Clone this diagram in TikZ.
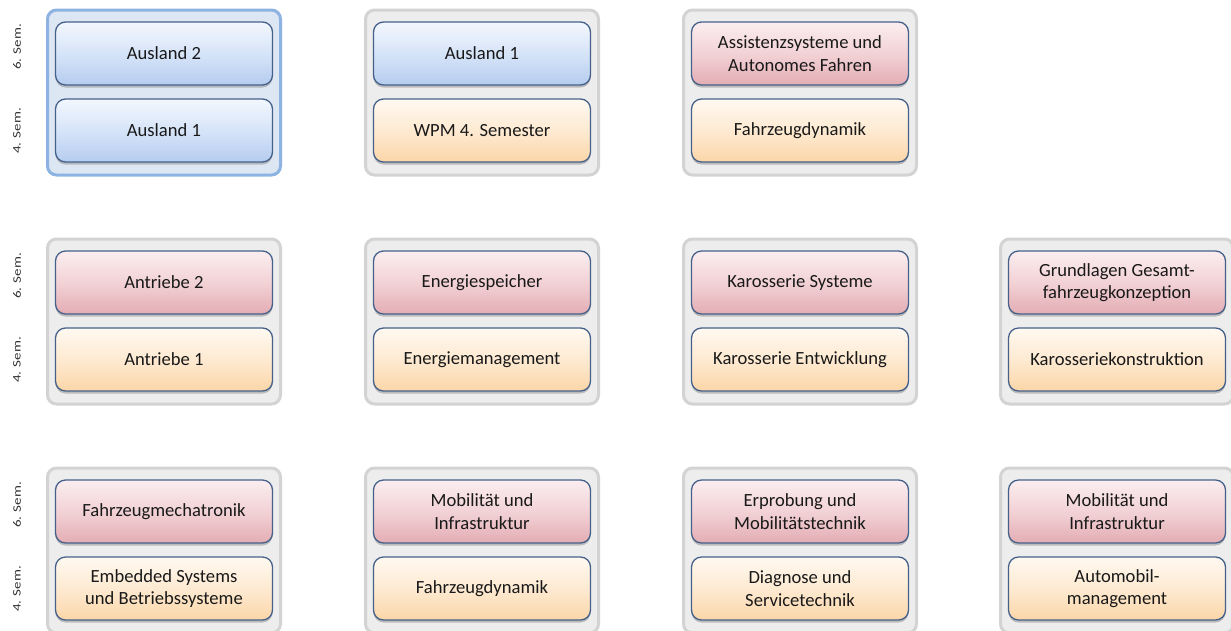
\documentclass[tikz,border=0pt]{standalone}
\usepackage{fontspec}
\setmainfont{Carlito}
\usetikzlibrary{positioning, backgrounds, shadows}

\definecolor{rahmen}{HTML}{45618A}
\definecolor{grauFill}{HTML}{EDEDED}
\definecolor{grauRand}{HTML}{D3D3D3}
\definecolor{blauFill}{HTML}{DDE7F4}
\definecolor{blauRand}{HTML}{8DB3E2}
\definecolor{blauOben}{HTML}{F3F7FE}
\definecolor{blauMitte}{HTML}{D6E4F8}
\definecolor{blauUnten}{HTML}{B6CDEF}
\definecolor{rotOben}{HTML}{FBEEF0}
\definecolor{rotMitte}{HTML}{F2D2D6}
\definecolor{rotUnten}{HTML}{E3ADB4}
\definecolor{orangeOben}{HTML}{FFF9F1}
\definecolor{orangeMitte}{HTML}{FEEAD2}
\definecolor{orangeUnten}{HTML}{FBD6A8}

\tikzset{
	gruppe/.style={draw=grauRand, fill=grauFill, line width=3pt, rounded corners=9pt,
		minimum width=233pt, minimum height=165pt},
	kurs/.style={draw=rahmen, line width=1.3pt, rounded corners=10pt,
		minimum width=217pt, minimum height=63pt, align=center, text=black!90,
		font=\fontsize{18.6pt}{22.5pt}\selectfont,
		drop shadow={shadow xshift=0pt, shadow yshift=-2.5pt, opacity=0.45}},
	blau/.style={kurs, top color=blauOben, bottom color=blauUnten, middle color=blauMitte},
	rot/.style={kurs, top color=rotOben, bottom color=rotUnten, middle color=rotMitte},
	orange/.style={kurs, top color=orangeOben, bottom color=orangeUnten, middle color=orangeMitte},
	sem/.style={rotate=90, text=black!80, font=\fontsize{11.5pt}{13pt}\selectfont}
}

\begin{document}
\begin{tikzpicture}[x=1pt, y=-1pt]
	\useasboundingbox (0,0) rectangle (1231,630);
	
	% Gruppen
	\node[gruppe, draw=blauRand, fill=blauFill] (G11) at (164,92.5) {};
	\node[gruppe] (G12) at (482,92.5) {};
	\node[gruppe] (G13) at (800,92.5) {};
	\node[gruppe] (G21) at (164,321.5) {};
	\node[gruppe] (G22) at (482,321.5) {};
	\node[gruppe] (G23) at (800,321.5) {};
	\node[gruppe] (G24) at (1117,321.5) {};
	\node[gruppe] (G31) at (164,550.5) {};
	\node[gruppe] (G32) at (482,550.5) {};
	\node[gruppe] (G33) at (800,550.5) {};
	\node[gruppe] (G34) at (1117,550.5) {};
	
	% Zeile 1
	\node[blau] (K11o) at (164,53.5) {Ausland 2};
	\node[blau] (K11u) at (164,130.5) {Ausland 1};
	\node[blau] (K12o) at (482,53.5) {Ausland 1};
	\node[orange] (K12u) at (482,130.5) {WPM 4. Semester};
	\node[rot] (K13o) at (800,53.5) {Assistenzsysteme und\\Autonomes Fahren};
	\node[orange] (K13u) at (800,130.5) {Fahrzeugdynamik};
	
	% Zeile 2
	\node[rot] (K21o) at (164,282.5) {Antriebe 2};
	\node[orange] (K21u) at (164,359.5) {Antriebe 1};
	\node[rot] (K22o) at (482,282.5) {Energiespeicher};
	\node[orange] (K22u) at (482,359.5) {Energiemanagement};
	\node[rot] (K23o) at (800,282.5) {Karosserie Systeme};
	\node[orange] (K23u) at (800,359.5) {Karosserie Entwicklung};
	\node[rot] (K24o) at (1117,282.5) {Grundlagen Gesamt-\\fahrzeugkonzeption};
	\node[orange] (K24u) at (1117,359.5) {Karosseriekonstruktion};
	
	% Zeile 3
	\node[rot] (K31o) at (164,511.5) {Fahrzeugmechatronik};
	\node[orange] (K31u) at (164,588.5) {Embedded Systems\\und Betriebssysteme};
	\node[rot] (K32o) at (482,511.5) {Mobilität und\\Infrastruktur};
	\node[orange] (K32u) at (482,588.5) {Fahrzeugdynamik};
	\node[rot] (K33o) at (800,511.5) {Erprobung und\\Mobilitätstechnik};
	\node[orange] (K33u) at (800,588.5) {Diagnose und\\Servicetechnik};
	\node[rot] (K34o) at (1117,511.5) {Mobilität und\\Infrastruktur};
	\node[orange] (K34u) at (1117,588.5) {Automobil-\\management};
	
	% Semester
	\foreach \z/\y in {1/0, 2/229, 3/458} {
		\node[sem] (S\z o) at (17,47+\y) {\scalebox{1.3}[1]{6. Sem.}};
		\node[sem] (S\z u) at (17,131+\y) {\scalebox{1.3}[1]{4. Sem.}};
	}
	
\end{tikzpicture}
\end{document}
